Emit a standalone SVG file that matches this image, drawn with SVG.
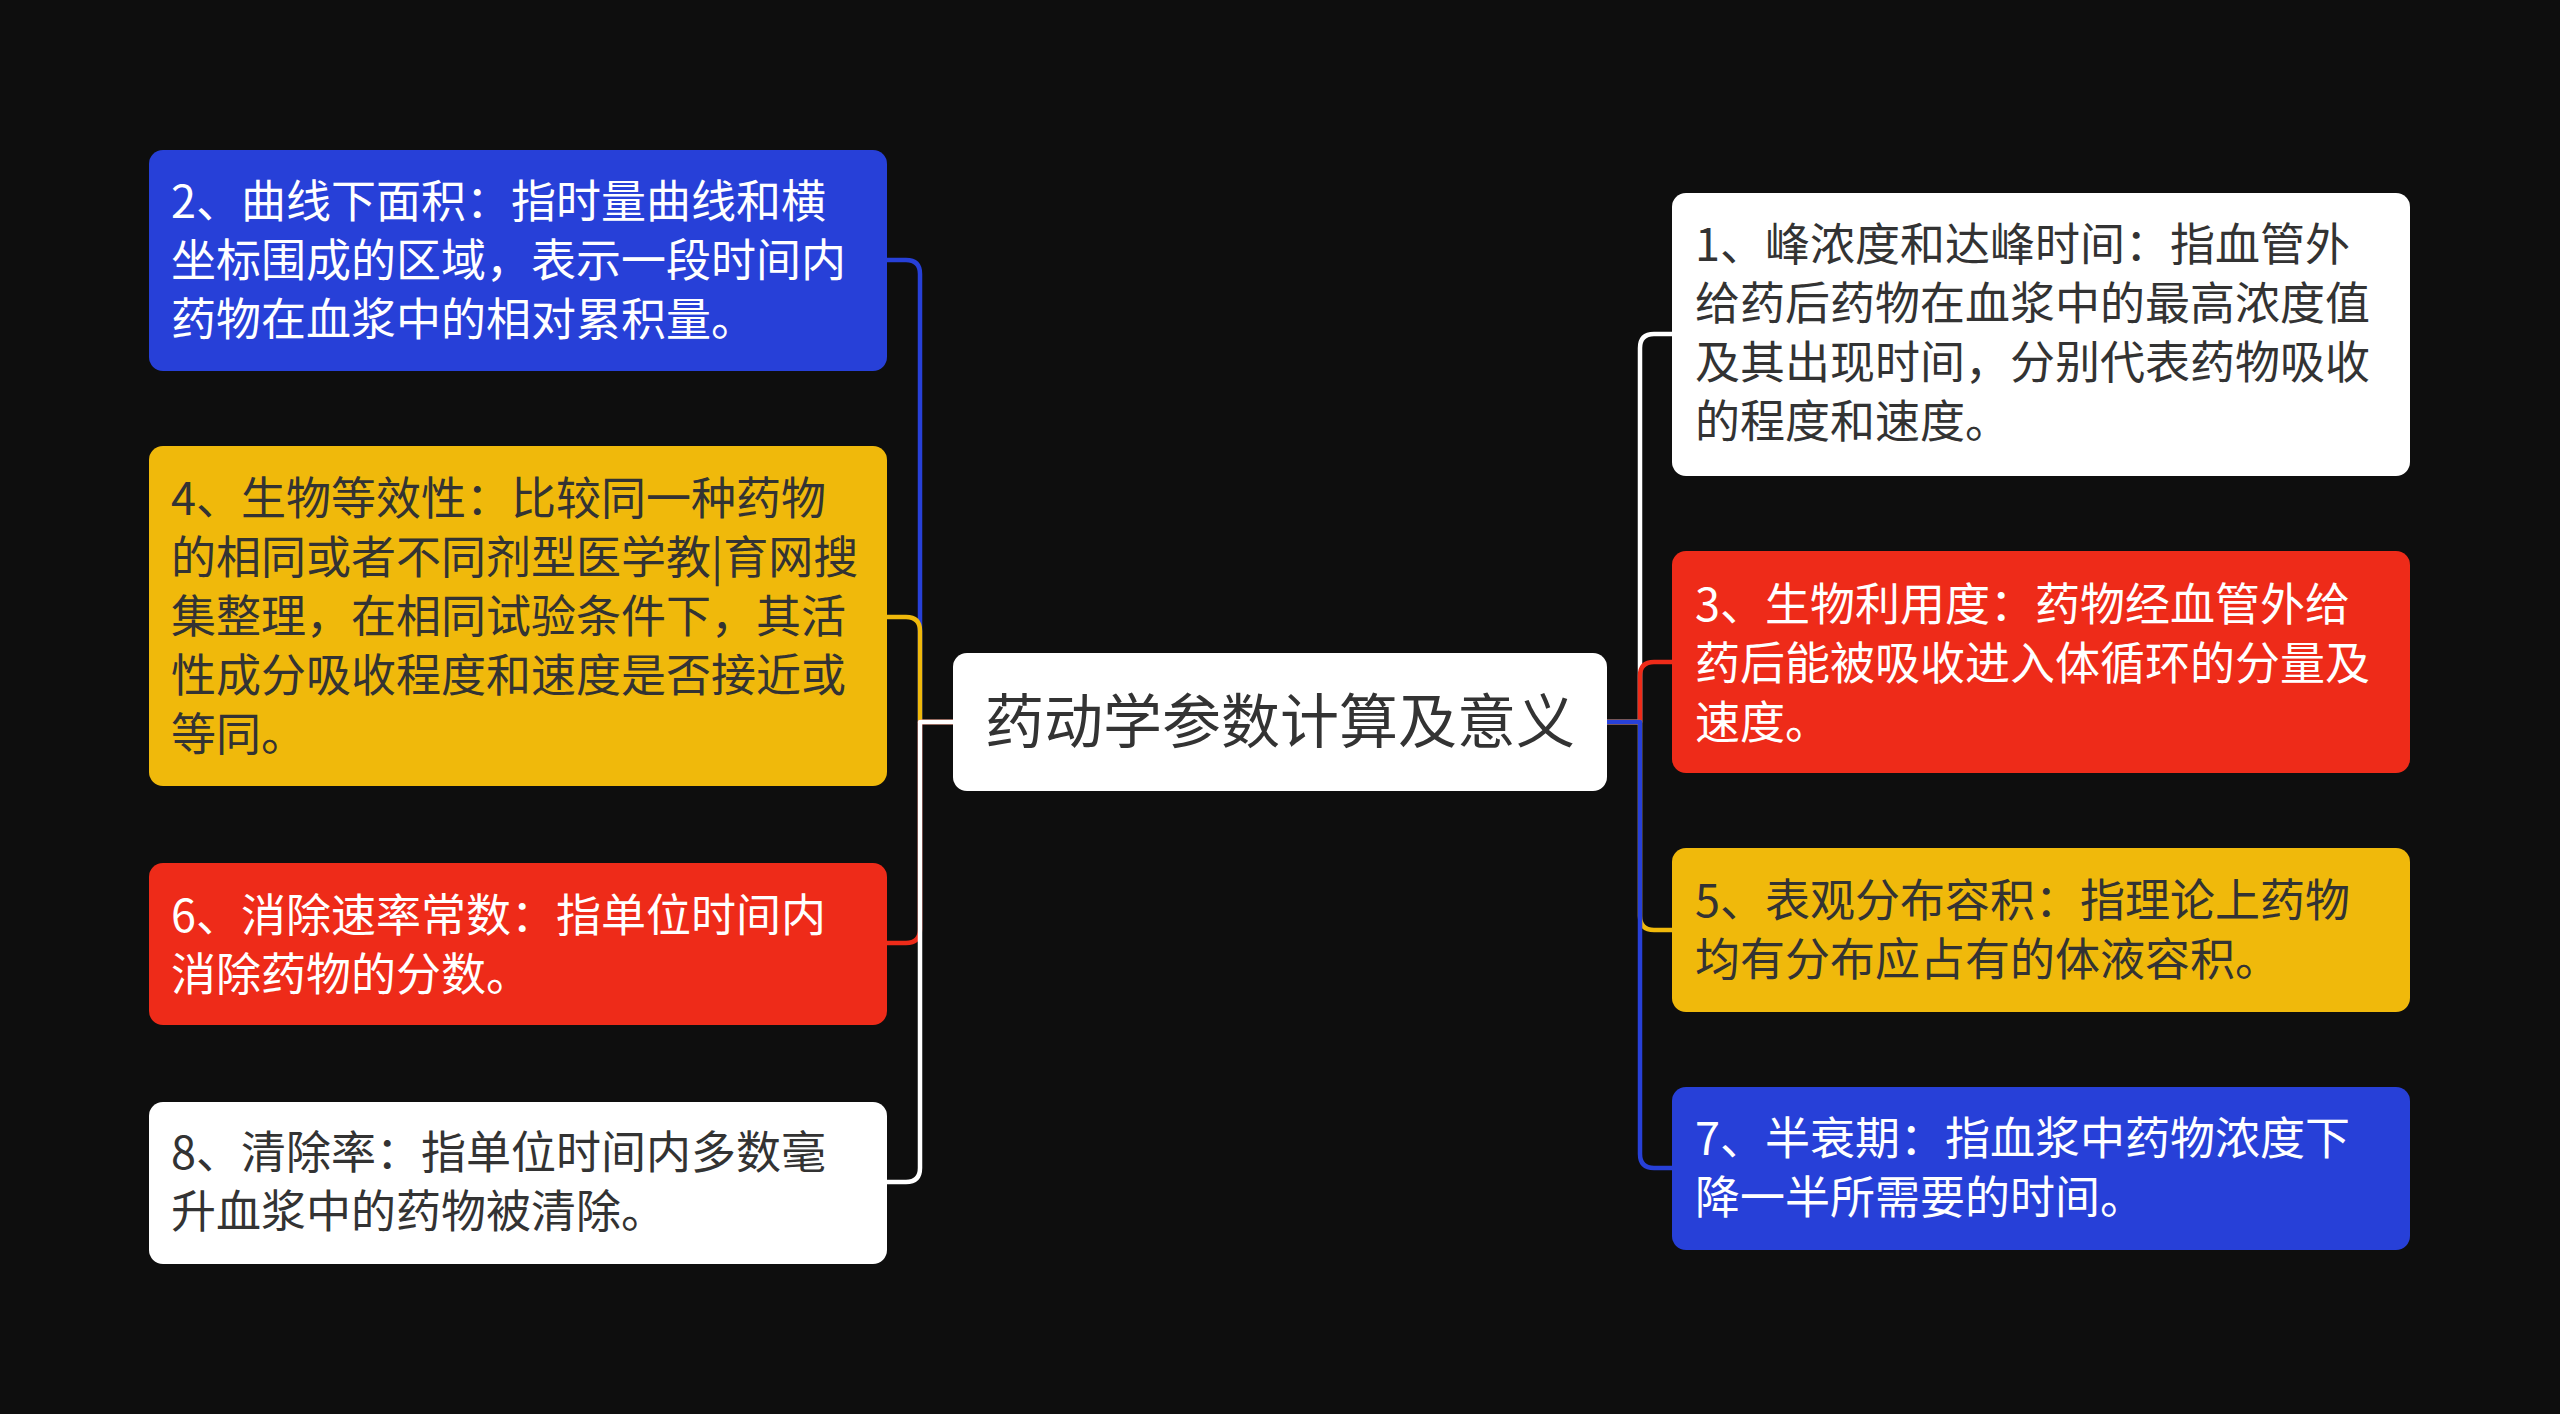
<svg xmlns="http://www.w3.org/2000/svg" width="2560" height="1414" viewBox="0 0 2560 1414">
<style>
.bg{fill:#0e0e0e}
.n rect{rx:14px;ry:14px}
.blue{fill:#2740d8}
.red{fill:#ee2b19}
.yellow{fill:#f0b90b}
.white{fill:#ffffff}
text{font-family:"Noto Sans CJK SC","Noto Sans",sans-serif;font-size:45px}
.lt{fill:#ffffff}
.dk{fill:#333333}
.ct{font-size:59px;fill:#333333}
.c{fill:none;stroke-width:4.5;stroke-linecap:round;stroke-linejoin:round}
</style>
<rect class="bg" x="0" y="0" width="2560" height="1414"/>
<g id="connectors">
<path class="c" stroke="#ffffff" d="M1607,722 H1640 V348 Q1640,334 1654,334 H1672"/>
<path class="c" stroke="#2740d8" d="M953,722 H920 V274 Q920,260 906,260 H887"/>
<path class="c" stroke="#ee2b19" d="M1607,722 H1640 V676 Q1640,662 1654,662 H1672"/>
<path class="c" stroke="#f0b90b" d="M953,722 H920 V631 Q920,617 906,617 H887"/>
<path class="c" stroke="#f0b90b" d="M1607,722 H1640 V916 Q1640,930 1654,930 H1672"/>
<path class="c" stroke="#ee2b19" d="M953,722 H920 V929 Q920,943 906,943 H887"/>
<path class="c" stroke="#2740d8" d="M1607,722 H1640 V1154 Q1640,1168 1654,1168 H1672"/>
<path class="c" stroke="#ffffff" d="M953,722 H920 V1168 Q920,1182 906,1182 H887"/>
</g>
<g id="center" class="n">
<rect class="white" x="953" y="653" width="654" height="138"/>
<text class="ct" x="1280" y="743" text-anchor="middle">药动学参数计算及意义</text>
</g>
<g id="node1" class="n">
<rect class="white" x="1672" y="193" width="738" height="283"/>
<text class="dk" x="1695"><tspan x="1695" y="261">1、峰浓度和达峰时间：指血管外</tspan><tspan x="1695" y="320">给药后药物在血浆中的最高浓度值</tspan><tspan x="1695" y="379">及其出现时间，分别代表药物吸收</tspan><tspan x="1695" y="438">的程度和速度。</tspan></text>
</g>
<g id="node2" class="n">
<rect class="blue" x="149" y="150" width="738" height="221"/>
<text class="lt" x="171"><tspan x="171" y="218">2、曲线下面积：指时量曲线和横</tspan><tspan x="171" y="277">坐标围成的区域，表示一段时间内</tspan><tspan x="171" y="336">药物在血浆中的相对累积量。</tspan></text>
</g>
<g id="node3" class="n">
<rect class="red" x="1672" y="551" width="738" height="222"/>
<text class="lt" x="1695"><tspan x="1695" y="621">3、生物利用度：药物经血管外给</tspan><tspan x="1695" y="680">药后能被吸收进入体循环的分量及</tspan><tspan x="1695" y="739">速度。</tspan></text>
</g>
<g id="node4" class="n">
<rect class="yellow" x="149" y="446" width="738" height="340"/>
<text class="dk" x="171"><tspan x="171" y="515">4、生物等效性：比较同一种药物</tspan><tspan x="171" y="574">的相同或者不同剂型医学教|育网搜</tspan><tspan x="171" y="633">集整理，在相同试验条件下，其活</tspan><tspan x="171" y="692">性成分吸收程度和速度是否接近或</tspan><tspan x="171" y="751">等同。</tspan></text>
</g>
<g id="node5" class="n">
<rect class="yellow" x="1672" y="848" width="738" height="164"/>
<text class="dk" x="1695"><tspan x="1695" y="917">5、表观分布容积：指理论上药物</tspan><tspan x="1695" y="976">均有分布应占有的体液容积。</tspan></text>
</g>
<g id="node6" class="n">
<rect class="red" x="149" y="863" width="738" height="162"/>
<text class="lt" x="171"><tspan x="171" y="932">6、消除速率常数：指单位时间内</tspan><tspan x="171" y="991">消除药物的分数。</tspan></text>
</g>
<g id="node7" class="n">
<rect class="blue" x="1672" y="1087" width="738" height="163"/>
<text class="lt" x="1695"><tspan x="1695" y="1155">7、半衰期：指血浆中药物浓度下</tspan><tspan x="1695" y="1214">降一半所需要的时间。</tspan></text>
</g>
<g id="node8" class="n">
<rect class="white" x="149" y="1102" width="738" height="162"/>
<text class="dk" x="171"><tspan x="171" y="1169">8、清除率：指单位时间内多数毫</tspan><tspan x="171" y="1228">升血浆中的药物被清除。</tspan></text>
</g>
</svg>
